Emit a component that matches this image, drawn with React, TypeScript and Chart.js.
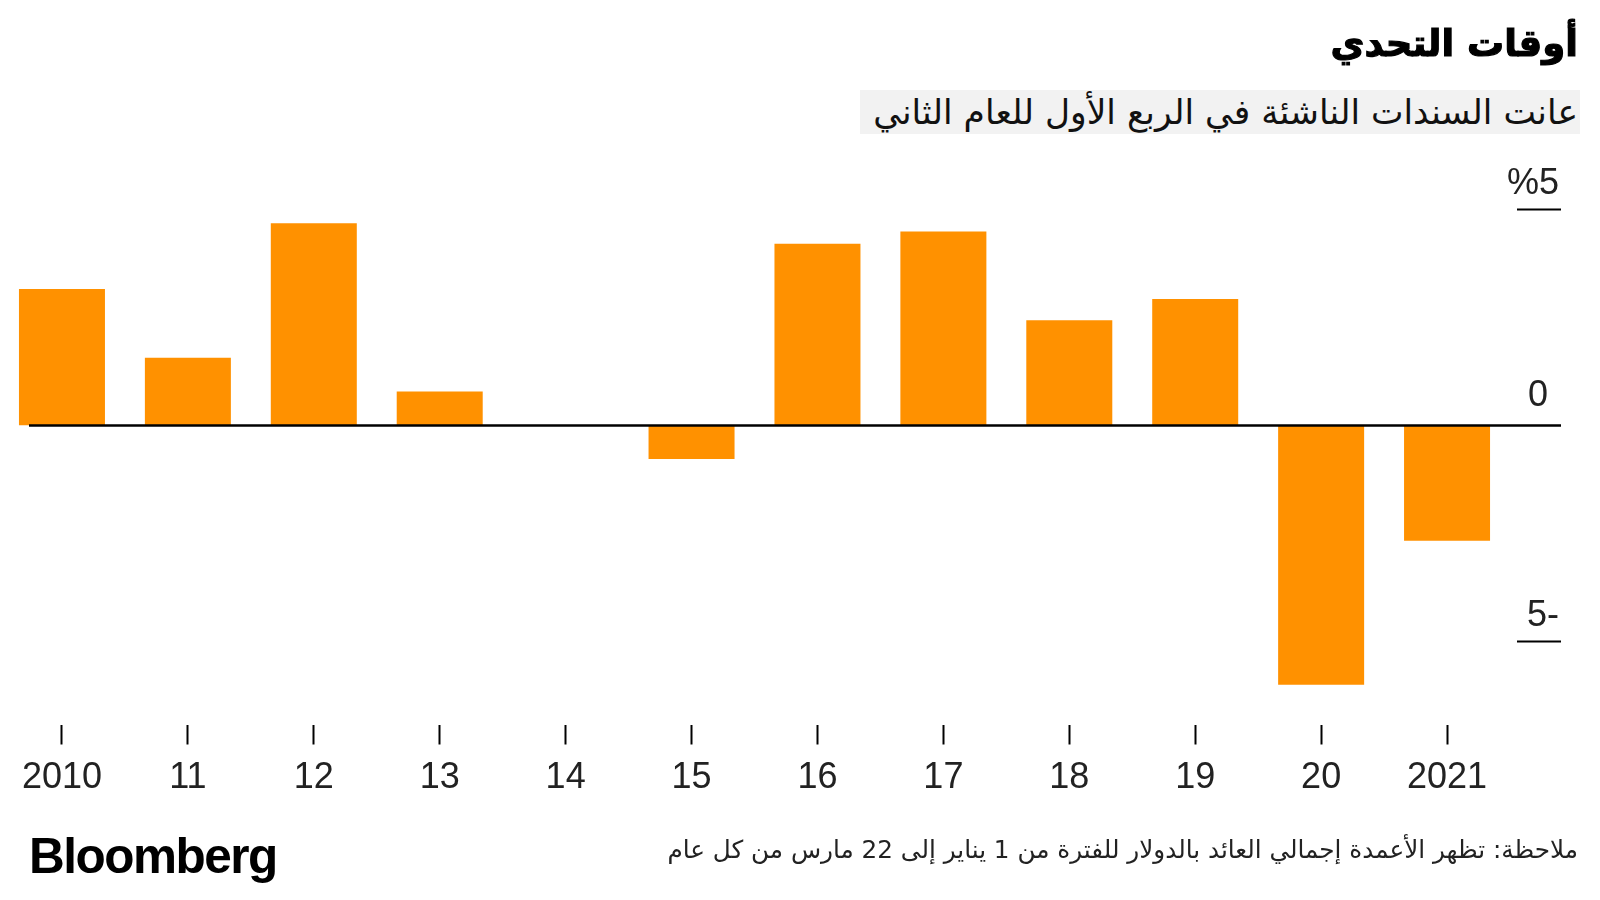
import React, { useEffect, useRef } from "react";
import { Chart, registerables } from "chart.js";

Chart.register(...registerables);

const yearLabels = ["2010", "11", "12", "13", "14", "15", "16", "17", "18", "19", "20", "2021"];
const returnsPct = [3.15, 1.56, 4.67, 0.78, 0, -0.78, 4.2, 4.48, 2.43, 2.92, -6.0, -2.67];
const yTickValues = [5, 0, -5];
const yTickLabels = ["%5", "0", "5-"];

const titleText = "أوقات التحدي";
const subtitleText = "عانت السندات الناشئة في الربع الأول للعام الثاني";
const noteText = "ملاحظة: تظهر الأعمدة إجمالي العائد بالدولار للفترة من 1 يناير إلى 22 مارس من كل عام";
const sourceText = "Bloomberg";

const ORANGE = "#FF9100";

const axisPlugin = {
  id: "bbgAxis",
  afterDatasetsDraw(chart: any) {
    const { ctx, chartArea } = chart;
    const y = chart.scales.y;
    const right = chartArea.right;
    ctx.save();
    ctx.strokeStyle = "#000";
    ctx.fillStyle = "#222";
    ctx.font = "36px 'Liberation Sans', Arial, sans-serif";
    ctx.textAlign = "right";
    ctx.textBaseline = "alphabetic";
    yTickValues.forEach((v, i) => {
      const py = Math.round(y.getPixelForValue(v)) + 0.5;
      ctx.beginPath();
      if (v === 0) {
        ctx.lineWidth = 2.5;
        ctx.moveTo(chartArea.left + 29, py);
      } else {
        ctx.lineWidth = 2;
        ctx.moveTo(right - 44, py);
      }
      ctx.lineTo(right, py);
      ctx.stroke();
      const tx = v === 0 ? right - 13 : right - 2;
      ctx.fillText(yTickLabels[i], tx, py - (v === 0 ? 20 : 16));
    });
    ctx.restore();
  },
};

function BarChart() {
  const ref = useRef<HTMLCanvasElement | null>(null);
  useEffect(() => {
    if (!ref.current) return;
    const chart = new Chart(ref.current, {
      type: "bar",
      data: {
        datasets: [
          {
            data: returnsPct.map((v, i) => ({ x: i, y: v })),
            backgroundColor: ORANGE,
            borderWidth: 0,
            barPercentage: 0.683,
            categoryPercentage: 1,
          },
        ],
      },
      options: {
        animation: false,
        responsive: false,
        maintainAspectRatio: false,
        layout: { padding: { left: 0, right: 39, top: 165.8, bottom: 88.3 } },
        plugins: { legend: { display: false }, tooltip: { enabled: false } },
        scales: {
          x: {
            type: "linear",
            offset: false,
            min: -0.4921,
            max: 11.905,
            border: { display: false },
            grid: {
              offset: false,
              drawOnChartArea: false,
              drawTicks: true,
              tickLength: 20,
              tickWidth: 2,
              tickColor: "#000",
            },
            afterBuildTicks: (scale: any) => {
              scale.ticks = yearLabels.map((_, i) => ({ value: i }));
            },
            ticks: {
              stepSize: 1,
              includeBounds: false,
              autoSkip: false,
              maxRotation: 0,
              padding: 12,
              color: "#222",
              font: { family: "'Liberation Sans', Arial, sans-serif", size: 36 },
              callback: (v: any) => yearLabels[v as number] ?? "",
            },
          },
          y: {
            display: false,
            min: -6.921,
            max: 6,
          },
        },
      },
      plugins: [axisPlugin],
    });
    return () => chart.destroy();
  }, []);
  return <canvas ref={ref} width={1600} height={900} style={{ position: "absolute", left: 0, top: 0 }} />;
}

export default function App() {
  return (
    <div style={{ position: "fixed", left: 0, top: 0, width: 1600, height: 900, background: "#fff", overflow: "hidden" }}>
      <BarChart />
      <div
        dir="rtl"
        style={{
          position: "absolute",
          right: 22,
          top: 22,
          fontFamily: "'DejaVu Sans', sans-serif",
          fontWeight: "bold",
          fontSize: 37,
          color: "#000",
          whiteSpace: "nowrap",
          WebkitTextStroke: "1.2px #000",
        }}
      >
        {titleText}
      </div>
      <div
        dir="rtl"
        style={{
          position: "absolute",
          right: 20,
          top: 90,
          height: 44,
          width: 720,
          background: "#f2f2f2",
          fontFamily: "'DejaVu Sans', sans-serif",
          fontSize: 34.5,
          lineHeight: "44px",
          color: "#111",
          whiteSpace: "nowrap",
          paddingRight: 2,
          boxSizing: "border-box",
        }}
      >
        {subtitleText}
      </div>
      <div
        style={{
          position: "absolute",
          left: 29,
          top: 827,
          fontFamily: "'Liberation Sans', Arial, sans-serif",
          fontWeight: "bold",
          fontSize: 49.5,
          letterSpacing: -1.5,
          color: "#000",
          whiteSpace: "nowrap",
        }}
      >
        {sourceText}
      </div>
      <div
        dir="rtl"
        style={{
          position: "absolute",
          right: 22,
          top: 835,
          fontFamily: "'DejaVu Sans', sans-serif",
          fontSize: 24.7,
          color: "#222",
          whiteSpace: "nowrap",
        }}
      >
        {noteText}
      </div>
    </div>
  );
}
